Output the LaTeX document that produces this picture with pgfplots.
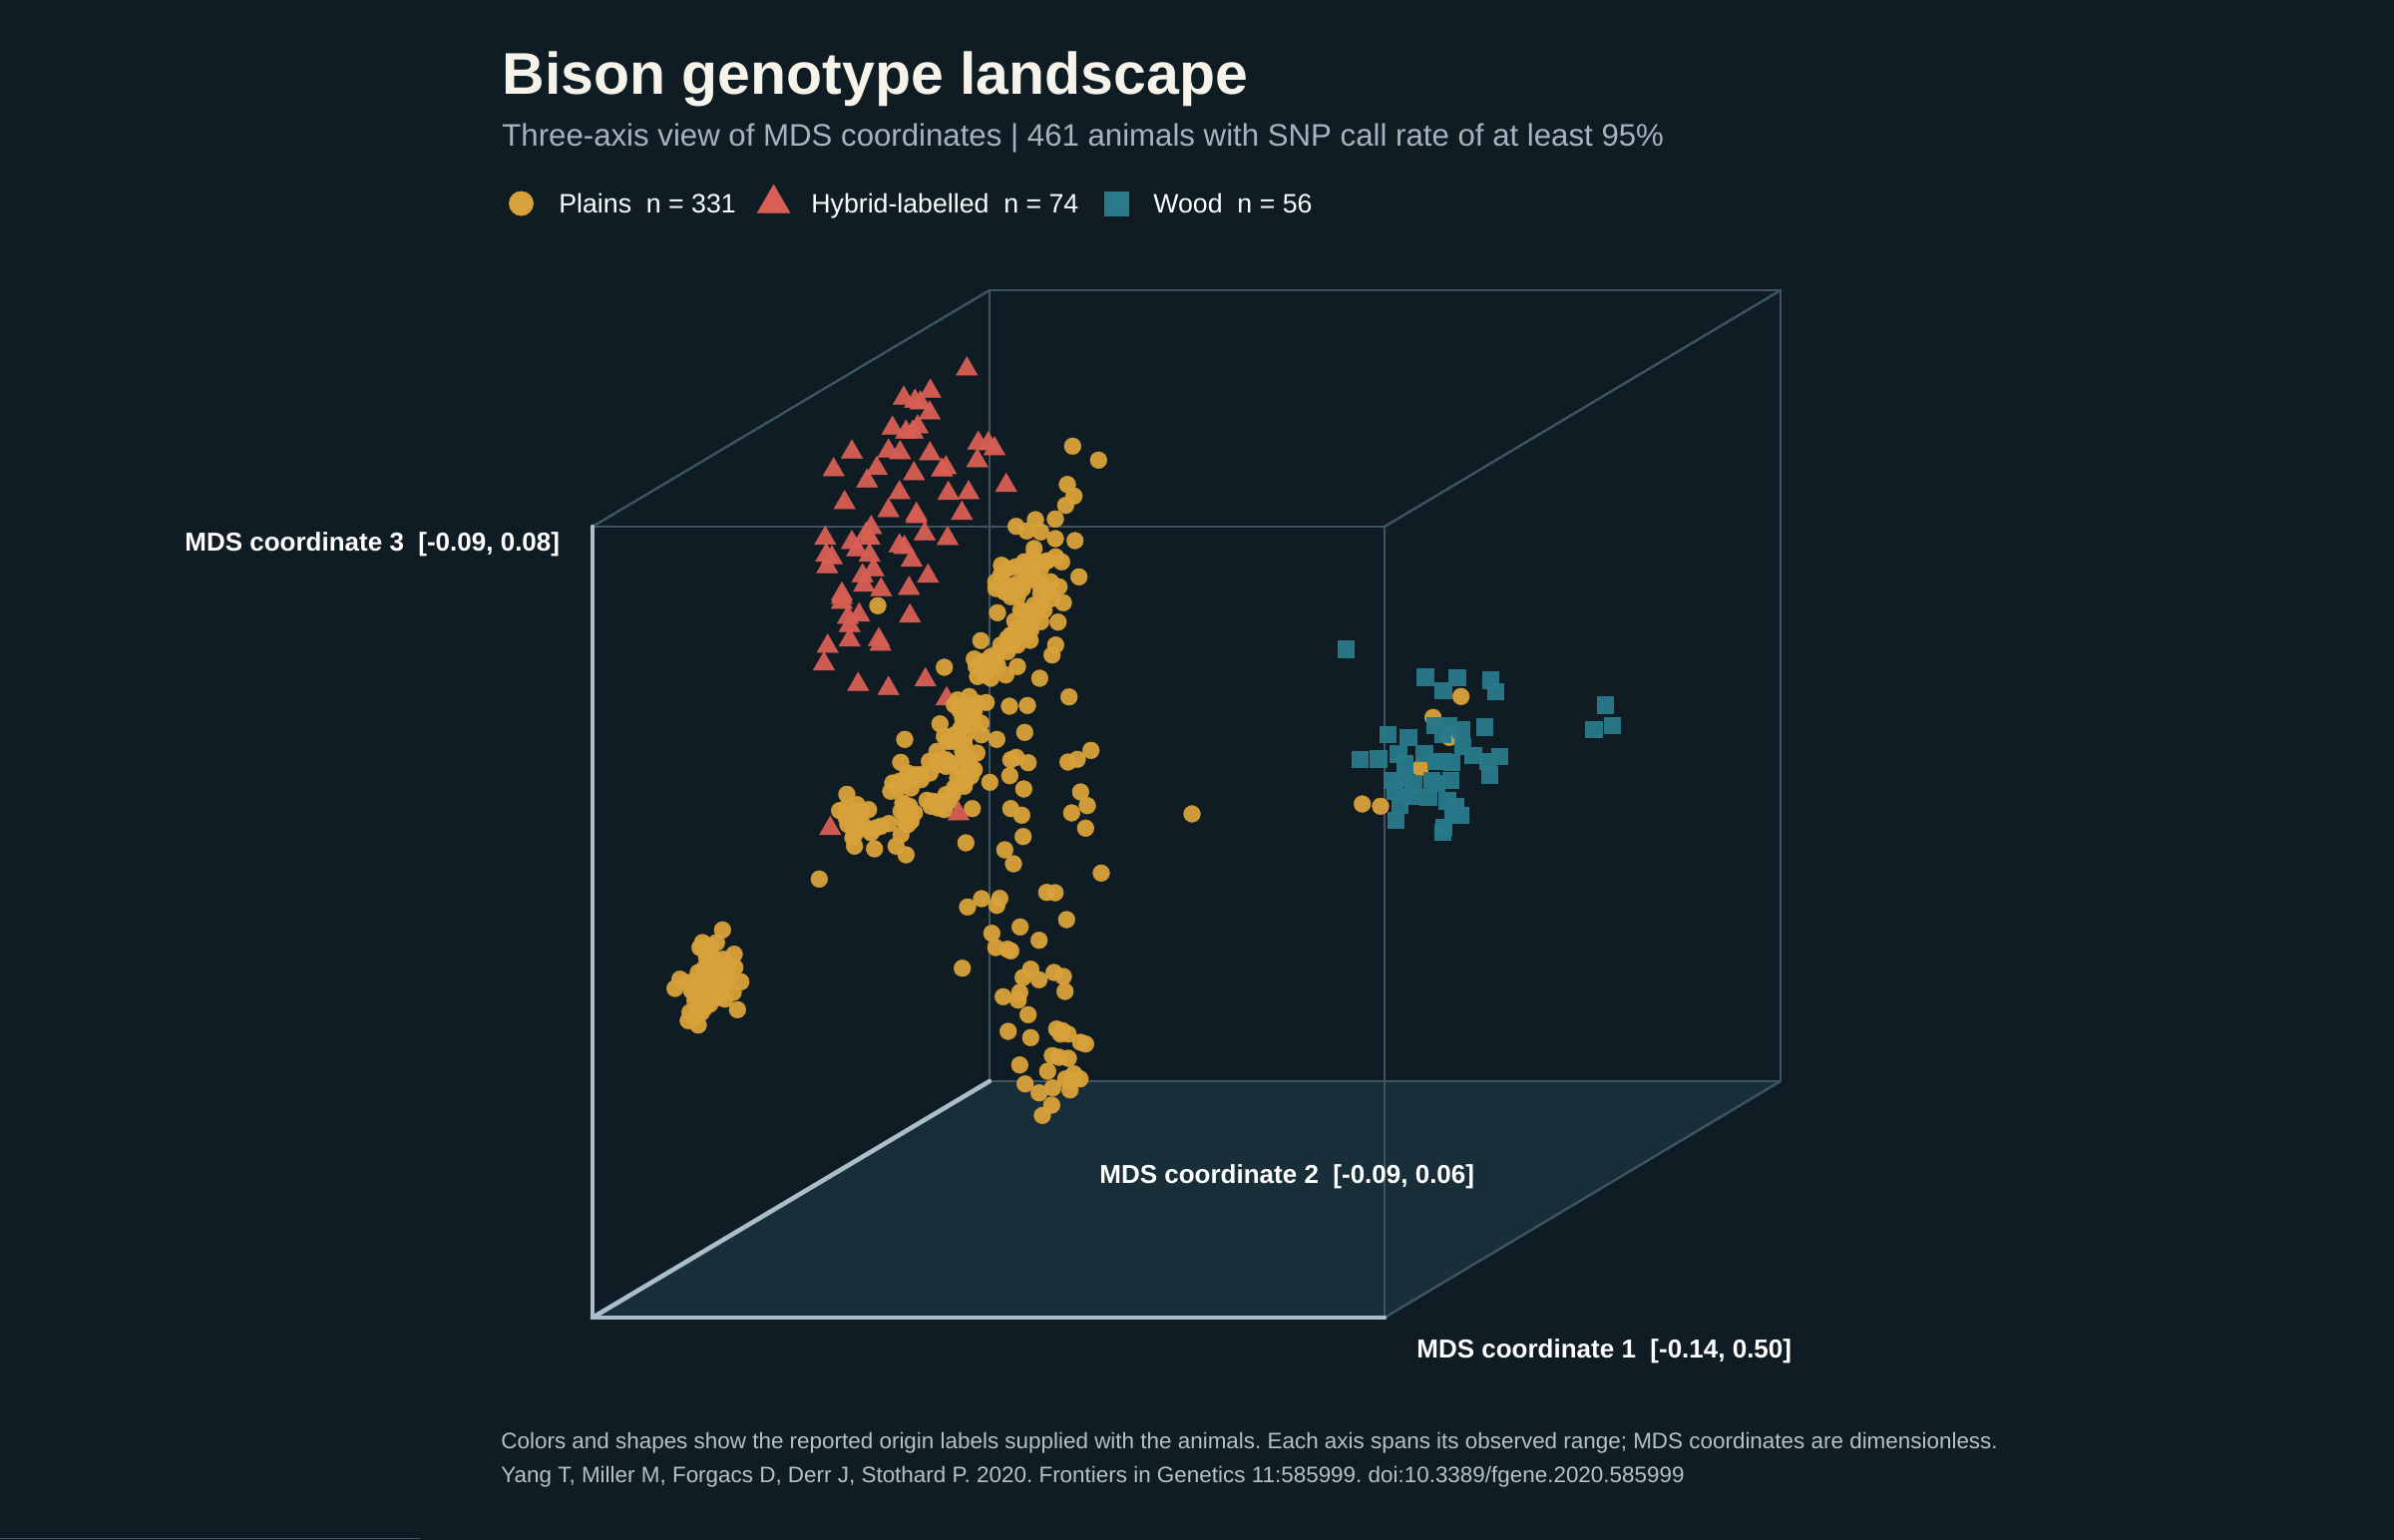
\documentclass[border=0pt]{standalone}
\usepackage{fontspec}
\setmainfont{Liberation Sans}
\usepackage{pgfplots}
\pgfplotsset{compat=1.18}

\definecolor{bg}{HTML}{0F1C24}
\definecolor{floorc}{HTML}{182E39}
\definecolor{edge}{HTML}{3C5561}
\definecolor{edgehi}{HTML}{A9BECA}
\definecolor{plains}{HTML}{D9A23A}
\definecolor{hybrid}{HTML}{D95F55}
\definecolor{wood}{HTML}{28798A}
\definecolor{titlec}{HTML}{F6F3EA}
\definecolor{subc}{HTML}{A3B5BD}
\definecolor{footc}{HTML}{B4C2C8}

% the filled marks always stroke, so the stroke gets the fill colour
\pgfplotsset{
  plainsmark/.style={only marks, mark=*, mark size=4.2pt,
    mark options={fill=plains, draw=plains, line width=0.2pt, opacity=0.95}},
  hybridmark/.style={only marks, mark=triangle*, mark size=6.2pt,
    mark options={fill=hybrid, draw=hybrid, line width=0.2pt, opacity=0.95}},
  woodmark/.style={only marks, mark=square*, mark size=4.1pt,
    mark options={fill=wood, draw=wood, line width=0.2pt, opacity=0.95}},
  backedge/.style={edge, line width=1.2pt, no marks},
  frontedge/.style={edgehi, line width=2.3pt, no marks, line cap=round},
}

\begin{document}
\frenchspacing
\begin{tikzpicture}
\begin{axis}[
  width=1200pt, height=771.5pt, scale only axis,
  xmin=0, xmax=2400, ymin=0, ymax=1543,
  y dir=reverse,
  hide axis,
  clip=false,
]
% background and floor of the box
\addplot[fill=bg, draw=none] coordinates {(-20,-20) (2420,-20) (2420,1563) (-20,1563)} --cycle;
\addplot[fill=floorc, draw=none] coordinates {(594,1321) (1388,1321) (1785,1084) (992,1084)} --cycle;
\addplot[color=edge, line width=0.5pt, no marks] coordinates {(0,1542.3) (421,1542.3)};

% box edges
\addplot[backedge] coordinates {(992,1084) (992,291) (1785,291) (1785,1084) (992,1084)};
\addplot[backedge] coordinates {(594,528) (1388,528) (1388,1321)};
\addplot[backedge] coordinates {(594,528) (992,291)};
\addplot[backedge] coordinates {(1388,528) (1785,291)};
\addplot[backedge] coordinates {(1388,1321) (1785,1084)};
\addplot[frontedge] coordinates {(594,528) (594,1321) (1388,1321)};
\addplot[frontedge] coordinates {(594,1321) (992,1084)};

% Hybrid-labelled
\addplot[hybridmark] coordinates {
(969.3,370) (906,399.3) (932.7,392.3) (917.3,402.3) (922.7,404) (932,414) (894.7,429.3) (920,428)
(908.3,433.3) (915,433.3) (854,453.3) (890.7,452.3) (902.3,454) (932.3,455) (980.7,444.3) (990.7,445)
(997,450) (835.7,471) (879,469.7) (869.3,482.3) (916.3,475) (948.3,469) (944.3,471.3) (979.7,462)
(1008.7,486.7) (901.7,494) (950.7,494.7) (971,494) (846.7,504) (890.7,512) (918.7,515.7) (918.7,518)
(964.3,514.7) (873.3,529) (868.3,535.7) (871.7,539.7) (827.3,539.7) (854,544) (859.3,551.3) (927,535.3)
(950,540) (901.7,547.3) (906.7,549) (871.7,556.7) (828.3,556.7) (834,559.3) (829.3,568.3) (914,561.7)
(875.7,571.3) (864.7,577.3) (930.3,577.7) (866.3,586.7) (883.3,591.3) (911.3,590) (844,595.7) (844,599)
(844,604) (861.3,616.7) (850,619) (851.7,627.3) (912.3,617.7) (881,641.3) (882.7,646) (851.7,641.7)
(829.7,648) (826,665.7) (860.3,686.3) (890.7,690.3) (927.7,681.7) (949,700.7) (832.3,830.7) (1035.7,554)
};

% Plains
\addplot[plainsmark] coordinates {
(1075.3,447.3) (1101.3,461.3) (1070,485.7) (1076.7,497.3) (1068.3,506.7) (1058,520.3) (1038,521) (1018.7,527.7)
(1029.3,532.3) (1043.3,533.3) (1058,540) (1077.7,542) (1036.7,550) (1058.3,558.3) (1064.3,563.3) (1050,562.3)
(1036.7,563.3) (1026.7,570) (1004,566.7) (1018.3,568.3) (1081.7,578.3) (1003.3,576.7) (998.3,590) (1010,586.7)
(1020,585) (1033.3,576.7) (1043.3,586.7) (1061.7,588.3) (1050,593.3) (1020,598.3) (1066,604.3) (1046.7,611.7)
(1036.7,606.7) (1026.7,613.3) (1000,614.3) (1060.7,623.7) (1017.3,622.7) (1033.3,623.3) (1025,630) (1043.3,623.3)
(1032.7,642) (983.3,642.3) (1058.3,646.7) (1054.7,656.7) (1010,640) (1020,646.7) (1000,655) (1010,653.3)
(976.7,660.7) (1020,668.3) (978.7,668.3) (993.3,670) (1008.3,676.7) (986.7,676.7) (1042.3,680) (946.7,669)
(880,607.3) (996.7,663.3) (1013.3,646.7) (1030,636.7) (1013.3,590) (1026.7,583.3) (1010,570) (1033.3,570)
(1046.7,563.3) (1040,583.3)
(1026.7,563.3) (1043.3,570) (1043.3,595) (1053.3,583.3) (1055,600) (1025,590) (1013.3,598.3) (1023.3,611.7)
(1033.3,613.3) (1040,613.3) (1043.3,606.7) (1020,630) (1033.3,631.7) (1013.3,636.7) (1003.3,646.7) (1023.3,638.3)
(993.3,658.3) (985,663.3) (1000,666.7) (980,678.3) (993.3,680) (998.3,583.3) (1006.7,593.3)
(1071.7,698.7) (1012,708) (1030,707.3) (988.7,704.3) (960,701.7) (971.7,698.3) (980,705) (961.7,711.7)
(973.3,715) (983.3,725) (942.3,725.7) (984,736.7) (999.3,741.3) (1027.3,734.3) (946.7,738.3) (963.3,730)
(961.7,743.3) (907,741.3) (939.3,753.3) (979.3,755) (1013.3,761.7) (1018.7,759.3) (1030.7,764.7) (1093.7,752.3)
(1080,761.3) (1070.7,764) (903,764.3) (931.7,763.3) (948.3,761.7) (966.7,756.7) (960,768.3) (971.7,770)
(910,775) (895,785) (901.7,783.3) (923.3,781.7) (913.3,790) (893,793.3) (932.3,775) (948.3,768.3)
(1012.3,777.7) (992.3,784.3) (1026.3,791) (1083.3,794) (973.3,778.3) (966.7,788.3) (956.7,790) (948.3,796.7)
(849,796.3) (929.3,802.3) (905,805) (859,806.7) (870.7,811.7) (841.7,812.7) (1013.3,810.7) (974.7,810.7)
(1090,807.7) (1074.3,815) (1024.3,817.3) (940,810) (946.7,811.7) (906.7,815) (916.7,815) (913.3,823.3)
(851.7,816.7) (860,820) (850,826.7) (856.7,830) (891,825.7) (878.3,830) (873.3,835) (1088.3,830.3)
(1025.7,838.7) (903.3,836.7) (855,840) (856.7,848.3) (968.3,845) (876.7,851) (898.3,848.3) (908.3,857)
(1007.3,852) (965,720) (956.7,736.7) (966.7,746.7) (970,763.3) (940,766.7) (918.3,776.7) (905,786.7)
(951.7,803.3) (933.3,808.3) (960,780) (911.7,808.3) (910,826.7) (865,826.7)
(966.7,706.7) (956.7,706.7) (976.7,713.3) (966.7,723.3) (976.7,726.7) (955,743.3) (968.3,736.7) (950,743.3)
(965,753.3) (953.3,765) (940,763.3) (971.7,761.7) (976.7,771.7) (968.3,781.7) (961.7,786.7) (955,796.7)
(943.3,803.3) (935,803.3) (923.3,776.7) (913.3,780) (900,790) (906.7,806.7) (906.7,823.3) (911.7,818.3)
(903.3,813.3) (848.3,810) (856.7,813.3) (863.3,813.3) (858.3,826.7) (848.3,820) (856.7,836.7) (870,831.7) (883.3,828.3)
(821.3,881.3) (1016,866) (1104,875.3) (1049.3,894.7) (1057.7,895) (984,901) (970,909.3) (1002.3,900.7)
(999.3,907.7) (1022.7,929.3) (1069.3,922) (994.3,935.7) (1041.7,942.7) (998.3,950) (1010,951.7) (1013.3,953.3)
(964.7,970.7) (1033.3,971.7) (1025.7,980) (1041.7,982.3) (1056.7,975) (1066,979) (1067.7,994) (1022.3,995)
(1005.7,999.3) (1020.7,1002.7) (1030.7,1017.3) (1010.7,1034) (1033.3,1040.3) (1059.3,1031.7) (1065,1033.3) (1063.3,1036.7)
(1070.7,1036.7) (1083.3,1045) (1088.3,1046.7) (1055,1058.3) (1061.7,1060) (1071,1061) (1022.3,1067.7) (1050.3,1074)
(1076.7,1076.7) (1068.3,1081.7) (1082.7,1081.7) (1075,1083.3) (1027.7,1086.7) (1055.3,1090.7) (1041.7,1095.7) (1072.7,1092.7)
(1054.3,1108) (1045,1118.3)
(724.3,932.3) (704.3,945) (701.7,950) (711.7,948.3) (718.3,945) (708.3,960) (736,956.7) (725,961.7)
(736.7,970) (700,975) (681.7,981.7) (676.7,991) (690,985) (742.7,984.3) (706.7,976.7) (720,976.7)
(728.3,975) (703.3,988.3) (715,990) (725,988.3) (735,995) (696.7,996.7) (708.3,1000) (720,1000)
(726.7,1001.7) (701.7,1006.7) (711.7,1006.7) (691.7,1015) (703.3,1015) (690,1023.3) (700,1027.7) (739.3,1012.3)
(696.7,1020) (706.7,993.3) (698.3,983.3) (713.3,980) (730,983.3) (706.7,970) (693.3,993.3) (703.3,1000)
(710,986.7) (716.7,996.7) (700,1010) (706.7,1010) (696.7,1003.3) (715,960) (706.7,953.3) (730,966.7)
(721.7,970)
(1464.7,698.3) (1436.7,719.3) (1453,739.3) (1424,770) (1365.7,806) (1384,808.3) (1195,816)
};

% one hybrid animal sits in front of the plains band
\addplot[hybridmark] coordinates {(961,816)};

% Wood
\addplot[woodmark] coordinates {
(1349.3,650.7) (1428.7,678.7) (1460.7,679) (1494.3,681.7) (1499,693.3) (1446.7,692.3) (1438.3,727.3) (1451.7,727.7)
(1464.7,731.3) (1488,728.7) (1446,735.7) (1466,748.3) (1391,736) (1411.7,739) (1401.7,755.7) (1427.7,755)
(1363,761) (1381.7,760.7) (1476.7,757) (1503.3,758.3) (1491.7,763.3) (1493.3,776.7) (1408.3,765) (1439.3,763.3)
(1455,764) (1446.7,763.3) (1395,782.3) (1408.3,780) (1416.7,785.7) (1435,782.7) (1440,785) (1454,782) (1398.3,793.3)
(1415,798.3) (1431.7,799) (1403.3,806.7) (1399.3,822.3) (1450.7,802.7) (1459.3,808.3) (1456,816.7) (1464.3,817.3)
(1447.3,829.3) (1446,834.3) (1609,706.7) (1597.7,731.3) (1616,727.3)
};

% legend keys
\addplot[only marks, mark=*, mark size=6.1pt, mark options={fill=plains, draw=plains, line width=0.2pt}] coordinates {(522.5,204)};
\addplot[only marks, mark=triangle*, mark size=9.5pt, mark options={fill=hybrid, draw=hybrid, line width=0.2pt}] coordinates {(775.6,204)};
\addplot[only marks, mark=square*, mark size=6.1pt, mark options={fill=wood, draw=wood, line width=0.2pt}] coordinates {(1119,204)};

% text
\node[anchor=base west, inner sep=0pt, text=titlec, font=\fontsize{29.5}{36}\selectfont\bfseries] at (axis cs:503,94) {Bison genotype landscape};
\node[anchor=base west, inner sep=0pt, text=subc, font=\fontsize{15.6}{18}\selectfont] at (axis cs:503,146) {Three-axis view of MDS coordinates | 461 animals with SNP call rate of at least 95\%};
\node[anchor=base west, inner sep=0pt, text=white, font=\fontsize{13.35}{16}\selectfont] at (axis cs:560,213) {Plains\ \ n = 331};
\node[anchor=base west, inner sep=0pt, text=white, font=\fontsize{13.35}{16}\selectfont] at (axis cs:813,213) {Hybrid-labelled\ \ n = 74};
\node[anchor=base west, inner sep=0pt, text=white, font=\fontsize{13.35}{16}\selectfont] at (axis cs:1156,213) {Wood\ \ n = 56};

\node[anchor=base west, inner sep=0pt, text=white, font=\fontsize{13}{15}\selectfont\bfseries] at (axis cs:185,552) {MDS coordinate 3\ \ [-0.09, 0.08]};
\node[anchor=base west, inner sep=0pt, text=white, font=\fontsize{13}{15}\selectfont\bfseries] at (axis cs:1102,1186) {MDS coordinate 2\ \ [-0.09, 0.06]};
\node[anchor=base west, inner sep=0pt, text=white, font=\fontsize{13}{15}\selectfont\bfseries] at (axis cs:1420,1361) {MDS coordinate 1\ \ [-0.14, 0.50]};

\node[anchor=base west, inner sep=0pt, text=footc, font=\fontsize{11.22}{13}\selectfont] at (axis cs:502,1452) {Colors and shapes show the reported origin labels supplied with the animals. Each axis spans its observed range; MDS coordinates are dimensionless.};
\node[anchor=base west, inner sep=0pt, text=footc, font=\fontsize{11.22}{13}\selectfont] at (axis cs:502,1486) {Yang T, Miller M, Forgacs D, Derr J, Stothard P. 2020. Frontiers in Genetics 11:585999. doi:10.3389/fgene.2020.585999};
\end{axis}
\pgfresetboundingbox
\useasboundingbox (0,0) rectangle (1200pt,771.5pt);
\end{tikzpicture}
\end{document}
